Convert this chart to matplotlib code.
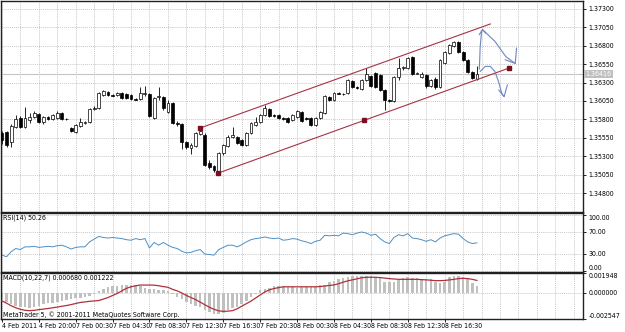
import numpy as np
import matplotlib
matplotlib.use("Agg")
import matplotlib.pyplot as plt
import matplotlib.transforms as mtransforms
from matplotlib import font_manager as fm

# look for a narrow face (MT5 labels are condensed); fall back to a smaller DejaVu Sans
narrow = None
for f in fm.fontManager.ttflist:
    if f.style != 'normal' or f.weight not in (400, 'normal', 'regular'):
        continue
    if 'Narrow' in f.name or 'Condensed' in f.name or f.stretch in ('condensed', 'semi-condensed'):
        if narrow is None or 'Liberation' in f.name:
            narrow = f
if narrow is not None:
    plt.rcParams['font.family'] = [narrow.name, 'DejaVu Sans']
    plt.rcParams['font.stretch'] = narrow.stretch
    FS = 5
else:
    plt.rcParams['font.family'] = ['DejaVu Sans']
    FS = 4.2

# ---------------- data (M30 bars) ----------------
opens = [1.3562, 1.3563, 1.3549, 1.3570, 1.3582, 1.3570, 1.3579, 1.3583, 1.3587, 1.3576,
         1.3583, 1.3581, 1.3582, 1.3589, 1.3581, 1.3568, 1.3563, 1.3571, 1.3575, 1.3576,
         1.3594, 1.3595, 1.3613, 1.3617, 1.3613, 1.3613, 1.3616, 1.3615, 1.3613, 1.3608,
         1.3608, 1.3615, 1.3615, 1.3582, 1.3610, 1.3610, 1.3590, 1.3602, 1.3575, 1.3574,
         1.3549, 1.3541, 1.3544, 1.3560, 1.3559, 1.3521, 1.3517, 1.3508, 1.3534, 1.3544,
         1.3556, 1.3556, 1.3552, 1.3545, 1.3562, 1.3572, 1.3576, 1.3586, 1.3594, 1.3586,
         1.3586, 1.3582, 1.3582, 1.3579, 1.3583, 1.3590, 1.3582, 1.3582, 1.3572, 1.3582,
         1.3589, 1.3610, 1.3606, 1.3616, 1.3614, 1.3616, 1.3632, 1.3624, 1.3621, 1.3633,
         1.3639, 1.3643, 1.3640, 1.3620, 1.3606, 1.3605, 1.3638, 1.3650, 1.3650, 1.3665,
         1.3642, 1.3638, 1.3640, 1.3625, 1.3635, 1.3624, 1.3657, 1.3670, 1.3680, 1.3685,
         1.3672, 1.3661, 1.3644, 1.3635]
highs = [1.3564, 1.3564, 1.3574, 1.3586, 1.3585, 1.3597, 1.3589, 1.3591, 1.3589, 1.3585,
         1.3585, 1.3587, 1.3591, 1.3590, 1.3582, 1.3570, 1.3574, 1.3582, 1.3578, 1.3595,
         1.3598, 1.3617, 1.3620, 1.3619, 1.3615, 1.3617, 1.3617, 1.3616, 1.3615, 1.3609,
         1.3624, 1.3625, 1.3616, 1.3610, 1.3624, 1.3612, 1.3606, 1.3604, 1.3578, 1.3575,
         1.3551, 1.3548, 1.3563, 1.3568, 1.3562, 1.3525, 1.3518, 1.3536, 1.3547, 1.3559,
         1.3570, 1.3557, 1.3553, 1.3563, 1.3576, 1.3583, 1.3587, 1.3600, 1.3595, 1.3587,
         1.3587, 1.3583, 1.3583, 1.3587, 1.3593, 1.3591, 1.3583, 1.3583, 1.3583, 1.3591,
         1.3613, 1.3612, 1.3617, 1.3617, 1.3616, 1.3635, 1.3633, 1.3625, 1.3635, 1.3650,
         1.3640, 1.3644, 1.3642, 1.3621, 1.3608, 1.3639, 1.3663, 1.3653, 1.3665, 1.3666,
         1.3644, 1.3644, 1.3642, 1.3635, 1.3638, 1.3662, 1.3673, 1.3682, 1.3687, 1.3687,
         1.3673, 1.3662, 1.3646, 1.3652]
lows = [1.3547, 1.3542, 1.3542, 1.3568, 1.3568, 1.3568, 1.3575, 1.3582, 1.3575, 1.3574,
        1.3579, 1.3579, 1.3581, 1.3579, 1.3579, 1.3563, 1.3561, 1.3570, 1.3574, 1.3575,
        1.3593, 1.3594, 1.3612, 1.3612, 1.3612, 1.3612, 1.3608, 1.3608, 1.3606, 1.3606,
        1.3606, 1.3612, 1.3583, 1.3581, 1.3606, 1.3593, 1.3589, 1.3574, 1.3571, 1.3540,
        1.3540, 1.3533, 1.3542, 1.3559, 1.3517, 1.3513, 1.3508, 1.3507, 1.3532, 1.3542,
        1.3555, 1.3547, 1.3544, 1.3544, 1.3560, 1.3571, 1.3575, 1.3585, 1.3583, 1.3583,
        1.3581, 1.3579, 1.3575, 1.3578, 1.3582, 1.3576, 1.3579, 1.3571, 1.3571, 1.3581,
        1.3587, 1.3605, 1.3605, 1.3614, 1.3613, 1.3614, 1.3623, 1.3621, 1.3620, 1.3632,
        1.3624, 1.3623, 1.3619, 1.3593, 1.3604, 1.3604, 1.3634, 1.3647, 1.3649, 1.3640,
        1.3642, 1.3636, 1.3623, 1.3624, 1.3621, 1.3622, 1.3655, 1.3669, 1.3678, 1.3670,
        1.3659, 1.3643, 1.3635, 1.3633]
closes = [1.3552, 1.3545, 1.3571, 1.3581, 1.3570, 1.3582, 1.3583, 1.3589, 1.3576, 1.3583,
          1.3581, 1.3586, 1.3589, 1.3581, 1.3580, 1.3564, 1.3572, 1.3576, 1.3576, 1.3594,
          1.3595, 1.3616, 1.3619, 1.3613, 1.3612, 1.3616, 1.3609, 1.3609, 1.3608, 1.3607,
          1.3616, 1.3616, 1.3585, 1.3609, 1.3612, 1.3595, 1.3602, 1.3575, 1.3574, 1.3549,
          1.3542, 1.3545, 1.3562, 1.3564, 1.3518, 1.3515, 1.3511, 1.3534, 1.3545, 1.3556,
          1.3559, 1.3548, 1.3545, 1.3562, 1.3575, 1.3576, 1.3586, 1.3595, 1.3585, 1.3585,
          1.3582, 1.3581, 1.3576, 1.3586, 1.3591, 1.3578, 1.3581, 1.3572, 1.3582, 1.3590,
          1.3612, 1.3606, 1.3616, 1.3615, 1.3615, 1.3633, 1.3624, 1.3623, 1.3633, 1.3642,
          1.3625, 1.3624, 1.3620, 1.3606, 1.3605, 1.3638, 1.3650, 1.3651, 1.3663, 1.3642,
          1.3643, 1.3642, 1.3625, 1.3633, 1.3624, 1.3661, 1.3672, 1.3681, 1.3685, 1.3672,
          1.3661, 1.3644, 1.3636, 1.36416]

rsi = [28, 25, 34, 40, 38, 43, 43, 44, 42, 43,
       44, 43, 45, 46, 43, 39, 42, 43, 43, 52,
       57, 62, 60, 59, 60, 59, 58, 56, 55, 58,
       56, 58, 41, 51, 46, 51, 46, 42, 40, 35,
       32, 33, 36, 38, 30, 29, 28, 38, 42, 46,
       46, 43, 47, 52, 56, 58, 59, 61, 59, 58,
       59, 55, 56, 58, 57, 54, 52, 49, 53, 55,
       64, 63, 64, 63, 68, 67, 65, 68, 70, 68,
       64, 66, 58, 52, 49, 60, 65, 63, 67, 59,
       58, 56, 53, 56, 52, 59, 63, 65, 67, 66,
       58, 52, 49, 50.26]

macd_main = [-0.00060, -0.00090, -0.00110, -0.00125, -0.00140, -0.00140, -0.00145, -0.00140, -0.00125, -0.00110,
             -0.00103, -0.00095, -0.00085, -0.00077, -0.00065, -0.00057, -0.00050, -0.00047, -0.00040, -0.00033,
             -0.00015, 0.00015, 0.00035, 0.00055, 0.00065, 0.00072, 0.00077, 0.00077, 0.00077, 0.00077,
             0.00067, 0.00053, 0.00043, 0.00035, 0.00033, 0.00028, 0.00023, -0.00015, -0.00040, -0.00057,
             -0.00090, -0.00107, -0.00123, -0.00140, -0.00167, -0.00190, -0.00205, -0.00207, -0.00195, -0.00170,
             -0.00150, -0.00140, -0.00107, -0.00075, -0.00040, -0.00007, 0.00027, 0.00043, 0.00053, 0.00065,
             0.00067, 0.00065, 0.00060, 0.00060, 0.00053, 0.00055, 0.00055, 0.00055, 0.00060, 0.00075,
             0.00080, 0.00110, 0.00120, 0.00135, 0.00145, 0.00155, 0.00165, 0.00167, 0.00167, 0.00167,
             0.00167, 0.00160, 0.00145, 0.00110, 0.00105, 0.00110, 0.00130, 0.00150, 0.00155, 0.00145,
             0.00145, 0.00140, 0.00140, 0.00135, 0.00110, 0.00095, 0.00110, 0.00160, 0.00170, 0.00170,
             0.00160, 0.00140, 0.00100, 0.000680]
macd_signal = [-0.00078, -0.00100, -0.00125, -0.00145, -0.00160, -0.00170, -0.00173, -0.00170, -0.00163, -0.00158,
               -0.00152, -0.00145, -0.00138, -0.00130, -0.00123, -0.00114, -0.00103, -0.00093, -0.00088, -0.00082,
               -0.00078, -0.00074, -0.00060, -0.00045, -0.00025, -0.00005, 0.00020, 0.00045, 0.00060, 0.00070,
               0.00077, 0.00077, 0.00077, 0.00076, 0.00070, 0.00062, 0.00055, 0.00035, 0.00020, 0.00000,
               -0.00025, -0.00045, -0.00065, -0.00090, -0.00115, -0.00140, -0.00160, -0.00175, -0.00180, -0.00178,
               -0.00173, -0.00155, -0.00130, -0.00105, -0.00080, -0.00050, -0.00020, 0.00010, 0.00030, 0.00043,
               0.00052, 0.00060, 0.00060, 0.00060, 0.00060, 0.00060, 0.00060, 0.00060, 0.00060, 0.00062,
               0.00068, 0.00073, 0.00078, 0.00090, 0.00105, 0.00118, 0.00128, 0.00138, 0.00148, 0.00153,
               0.00153, 0.00153, 0.00150, 0.00145, 0.00140, 0.00136, 0.00133, 0.00133, 0.00133, 0.00133,
               0.00133, 0.00130, 0.00128, 0.00124, 0.00120, 0.00120, 0.00122, 0.00127, 0.00133, 0.00140,
               0.00143, 0.00140, 0.00133, 0.001222]

time_labels = ["4 Feb 2011", "4 Feb 20:00", "7 Feb 00:30", "7 Feb 04:30", "7 Feb 08:30",
               "7 Feb 12:30", "7 Feb 16:30", "7 Feb 20:30", "8 Feb 00:30", "8 Feb 04:30",
               "8 Feb 08:30", "8 Feb 12:30", "8 Feb 16:30"]
time_label_bars = [0, 8, 16, 24, 32, 40, 48, 56, 64, 72, 80, 88, 96]

price_ticks = [1.34800, 1.35050, 1.35300, 1.35550, 1.35800, 1.36050,
               1.36300, 1.36550, 1.36800, 1.37050, 1.37300]
last_price = 1.36416
rsi_ticks = [0, 30, 70, 100]
macd_ticks = [-0.002547, 0.0, 0.001948]

# equidistant channel drawn on the chart (bar index, price)
channel_upper = ([43.0, 105.9], [1.35683, 1.37096])
channel_lower = ([46.9, 110.0], [1.35071, 1.36498])
channel_dots = ([43.0, 46.9, 78.5, 110.0], [1.35683, 1.35071, 1.35787, 1.36498])

# hand-drawn arrows
sketch_up = ([103.5, 103.6, 103.7, 104.0, 104.2], [1.3648, 1.3660, 1.3678, 1.3699, 1.3702])
sketch_up_head = ([103.5, 104.2, 104.9], [1.3695, 1.3702, 1.3697])
sketch_right = ([104.4, 106.9, 109.3, 111.3], [1.3701, 1.3686, 1.3665, 1.3656])
sketch_right_head = ([109.1, 111.3, 111.6], [1.3661, 1.3656, 1.3677])
sketch_down = ([103.7, 104.8, 105.9, 106.9, 107.7, 108.4, 108.9],
               [1.3645, 1.3652, 1.3652, 1.3645, 1.3631, 1.3615, 1.3611])
sketch_down_head = ([107.7, 108.9, 109.6], [1.3620, 1.3611, 1.3627])

# ---------------- figure ----------------
W, H = 625, 332
fig = plt.figure(figsize=(W / 100, H / 100), dpi=100)


def px_axes(x0, y0, x1, y1):
    return fig.add_axes([x0 / W, 1 - y1 / H, (x1 - x0) / W, (y1 - y0) / H])


ax = px_axes(1, 1, 583, 212)
ax_rsi = px_axes(1, 213, 583, 271.5)
ax_macd = px_axes(1, 273, 583, 319)

GRID = dict(color='#b4b4b4', linestyle=(0, (1.5, 1.5)), linewidth=0.5)

for a in (ax, ax_rsi, ax_macd):
    a.set_xlim(-0.2, 126.0)
    a.yaxis.tick_right()
    a.tick_params(axis='y', direction='out', length=2.5, width=0.6, labelsize=FS, pad=1.5)
    a.set_xticks(time_label_bars)
    a.set_xticks(np.arange(0, 126, 4), minor=True)
    a.tick_params(axis='x', which='both', length=0, labelbottom=False)
    a.grid(True, which='both', axis='x', **GRID)
    a.grid(True, which='major', axis='y', **GRID)
    a.set_axisbelow(True)
    for s in a.spines.values():
        s.set_linewidth(1.0)
        s.set_color('#202020')

x = np.arange(len(closes))

# ---- candles
ax.vlines(x, lows, highs, color='black', linewidth=0.6, zorder=2)
o = np.array(opens)
c = np.array(closes)
bottoms = np.minimum(o, c)
heights = np.maximum(np.abs(c - o), 0.00003)
faces = ['white' if cc >= oo else 'black' for oo, cc in zip(opens, closes)]
ax.bar(x, heights, bottom=bottoms, width=0.62, color=faces, edgecolor='black',
       linewidth=0.5, zorder=3)

ax.set_ylim(1.34542, 1.37408)
ax.set_yticks(price_ticks)
ax.set_yticklabels([f"{p:.5f}" for p in price_ticks])

ax.axhline(last_price, color='#c4c4c4', linewidth=0.8, zorder=1)
trans = mtransforms.blended_transform_factory(ax.transAxes, ax.transData)
ax.text(1.004, last_price, f"{last_price:.5f}", transform=trans, va='center', ha='left',
        fontsize=FS, color='white', zorder=5,
        bbox=dict(boxstyle='square,pad=0.2', fc='#c0c0c0', ec='none'))

# channel
ch_col = '#a83244'
ax.plot(*channel_upper, color=ch_col, linewidth=0.8, zorder=4)
ax.plot(*channel_lower, color=ch_col, linewidth=0.8, zorder=4)
ax.plot(*channel_dots, linestyle='none', marker='s', markersize=2.2, color='#7a1020', zorder=5)

# sketches
sk_col = '#6f86bf'
for xs, ys in (sketch_up, sketch_up_head, sketch_right, sketch_right_head,
               sketch_down, sketch_down_head):
    ax.plot(xs, ys, color=sk_col, linewidth=0.8, zorder=5, solid_capstyle='round')

# ---- RSI
ax_rsi.plot(x, rsi, color='#4d8fc4', linewidth=0.7)
ax_rsi.set_ylim(-1.8, 104.5)
ax_rsi.set_yticks(rsi_ticks)
ax_rsi.set_yticklabels([f"{v:.2f}" for v in rsi_ticks])
ax_rsi.text(0.004, 0.915, "RSI(14) 50.26", transform=ax_rsi.transAxes, va='center',
            ha='left', fontsize=FS)

# ---- MACD
ax_macd.bar(x, macd_main, width=0.55, color='#c0c0c0', zorder=2)
ax_macd.plot(x, macd_signal, color='#b0303a', linewidth=0.9, zorder=3)
ax_macd.set_ylim(-0.002547, 0.001948)
ax_macd.set_yticks(macd_ticks)
ax_macd.set_yticklabels([f"{v:.6f}" for v in macd_ticks])
ax_macd.text(0.004, 0.9, "MACD(10,22,7) 0.000680 0.001222", transform=ax_macd.transAxes,
             va='center', ha='left', fontsize=FS)
ax_macd.text(0.004, 0.09, "MetaTrader 5, \u00a9 2001-2011 MetaQuotes Software Corp.",
             transform=ax_macd.transAxes, va='center', ha='left', fontsize=FS)

# edge labels of the sub-windows sit inside the panel, as in MT5
for a in (ax_rsi, ax_macd):
    lbls = a.get_yticklabels()
    lbls[0].set_va('bottom')
    lbls[-1].set_va('top')

ax_macd.tick_params(axis='x', which='major', length=2, width=0.6, direction='out',
                    labelbottom=True, labelsize=FS, pad=1)
ax_macd.set_xticklabels(time_labels)
for lbl in ax_macd.get_xticklabels():
    lbl.set_ha('left')

fig.savefig("out.png", dpi=100)
